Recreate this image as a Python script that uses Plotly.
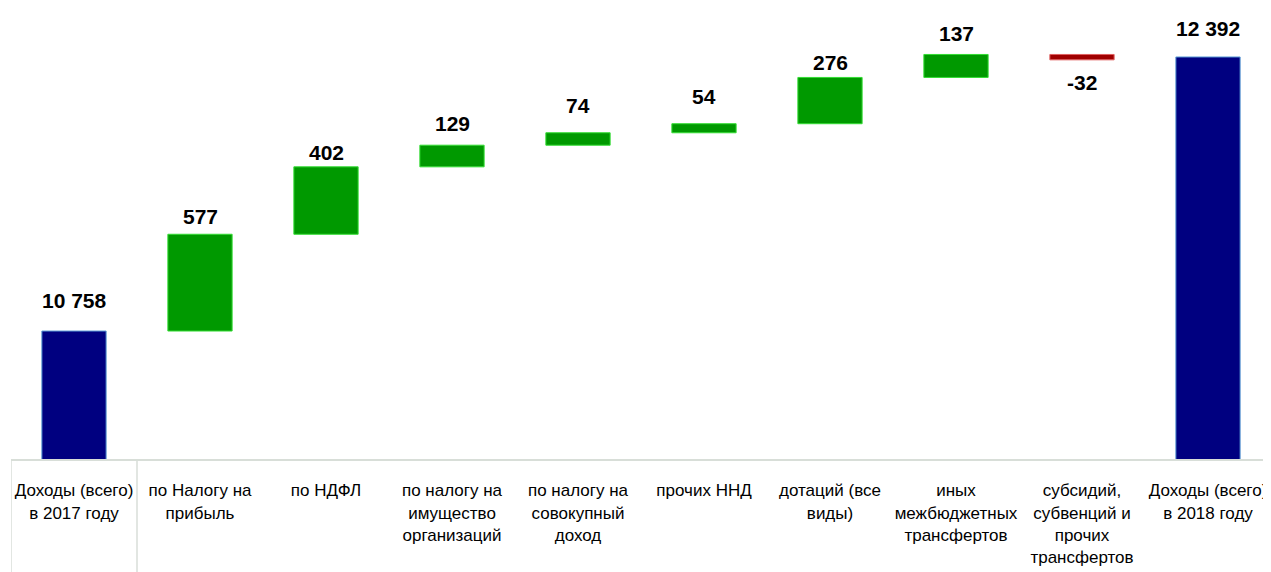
import plotly.graph_objects as go

categories = [
    "Доходы (всего)<br>в 2017 году",
    "по Налогу на<br>прибыль",
    "по НДФЛ",
    "по налогу на<br>имущество<br>организаций",
    "по налогу на<br>совокупный<br>доход",
    "прочих ННД",
    "дотаций (все<br>виды)",
    "иных<br>межбюджетных<br>трансфертов",
    "субсидий,<br>субвенций и<br>прочих<br>трансфертов",
    "Доходы (всего)<br>в 2018 году",
]
values = [10758, 577, 402, 129, 74, 54, 276, 137, -32, 12392]
measures = ["absolute"] + ["relative"] * 8 + ["absolute"]
labels = [f"{v:,}".replace(",", " ") for v in values]

# label distance from bar end, px (Excel placed them unevenly)
label_gap = [31, 18, 14, 22, 27, 27, 15, 21, 23, 28]

fig = go.Figure()
fig.add_trace(go.Waterfall(
    x=list(range(len(categories))),
    y=values,
    measure=measures,
    width=0.51,
    connector=dict(visible=False),
    totals=dict(marker=dict(color="#000080", line=dict(color="#5b9bd5", width=1))),
    increasing=dict(marker=dict(color="#009900", line=dict(color="#33dd33", width=1))),
    decreasing=dict(marker=dict(color="#a00000", line=dict(color="#e06060", width=1))),
    hoverinfo="skip",
))

# value labels above / below each bar
running = 0
for i, (v, m) in enumerate(zip(values, measures)):
    if m == "absolute":
        running = v
        y, shift = v, label_gap[i]
    else:
        running += v
        y = running
        shift = label_gap[i] if v >= 0 else -label_gap[i]
    fig.add_annotation(
        x=i, y=y, text=f"<b>{labels[i]}</b>", showarrow=False,
        yshift=shift, yanchor="middle",
        font=dict(family="Liberation Sans, Arial, sans-serif", size=21, color="#000000"),
    )

# separators under the first category
for xv in (-0.5, 0.5):
    fig.add_shape(type="line", xref="x", yref="paper", x0=xv, x1=xv, y0=0, y1=-0.26,
                  line=dict(color="#d8ded8", width=1.5))

fig.update_layout(
    width=1263, height=564,
    margin=dict(l=3, r=0, t=0, b=113),
    plot_bgcolor="white", paper_bgcolor="white",
    showlegend=False,
    font=dict(family="Liberation Sans, Arial, sans-serif", size=17, color="#000000"),
    xaxis=dict(
        tickmode="array", tickvals=list(range(len(categories))), ticktext=categories,
        range=[-0.5, 9.5], showgrid=False, zeroline=False,
        showline=True, linecolor="#d8ded8", linewidth=2,
        ticks="", ticklabelstandoff=15, tickangle=0, automargin=False,
        tickfont=dict(size=17, color="#000000"),
    ),
    yaxis=dict(range=[9995, 12684], visible=False, showgrid=False, zeroline=False),
)

fig.write_html("out.html")
